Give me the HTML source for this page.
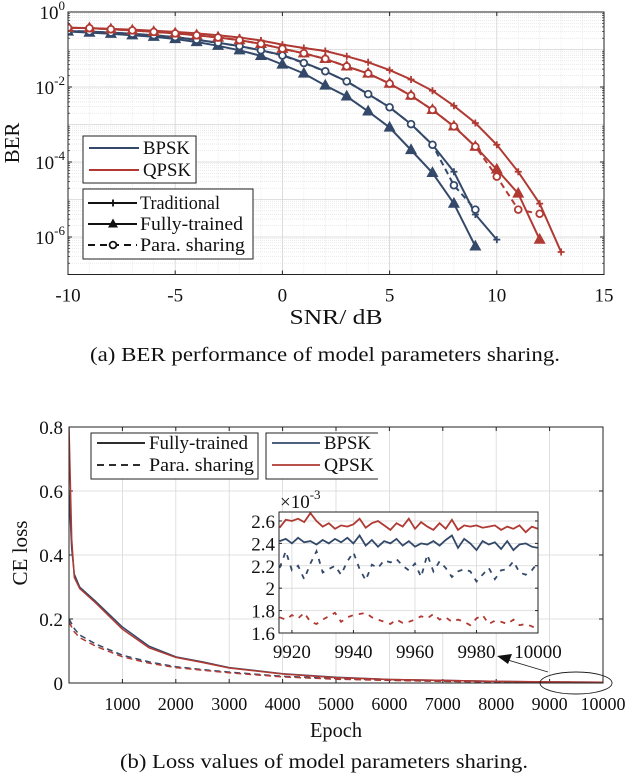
<!DOCTYPE html>
<html><head><meta charset="utf-8"><style>
html,body{margin:0;padding:0;background:#fff;}
svg{display:block;font-family:"Liberation Serif",serif;}
</style></head><body>
<svg id="fig" width="628" height="774" viewBox="0 0 628 774" xmlns="http://www.w3.org/2000/svg">
<defs>
<clipPath id="clipA"><rect x="68" y="12" width="536" height="262.5"/></clipPath>
<clipPath id="clipB"><rect x="69" y="427" width="534" height="256"/></clipPath>
<clipPath id="clipI"><rect x="279" y="512" width="259" height="121"/></clipPath>
</defs>
</svg>
<script>
// ===== Chart A data (BER, log10 exponents) =====
const snr = [-10,-9,-8,-7,-6,-5,-4,-3,-2,-1,0,1,2,3,4,5,6,7,8,9,10,11,12,13];
const bpskTrad = [-0.51,-0.52,-0.55,-0.58,-0.62,-0.67,-0.74,-0.82,-0.91,-1.02,-1.15,-1.35,-1.58,-1.85,-2.19,-2.54,-2.99,-3.54,-4.26,-5.40,-6.07];
const bpskFull = [-0.52,-0.55,-0.58,-0.62,-0.66,-0.72,-0.80,-0.90,-1.02,-1.17,-1.40,-1.64,-1.96,-2.25,-2.65,-3.08,-3.68,-4.29,-5.11,-6.25];
const bpskPara = [-0.51,-0.52,-0.55,-0.58,-0.62,-0.67,-0.74,-0.82,-0.91,-1.02,-1.16,-1.36,-1.58,-1.85,-2.19,-2.54,-2.99,-3.54,-4.62,-5.27];
const qpskTrad = [-0.42,-0.43,-0.45,-0.47,-0.50,-0.53,-0.57,-0.62,-0.68,-0.76,-0.87,-0.96,-1.04,-1.18,-1.34,-1.55,-1.80,-2.10,-2.50,-2.96,-3.54,-4.26,-5.11,-6.40];
const qpskFull = [-0.42,-0.43,-0.46,-0.49,-0.53,-0.57,-0.62,-0.68,-0.75,-0.85,-0.98,-1.10,-1.25,-1.45,-1.64,-1.91,-2.23,-2.61,-3.05,-3.59,-4.20,-4.84,-6.07];
const qpskPara = [-0.42,-0.43,-0.46,-0.49,-0.53,-0.57,-0.62,-0.68,-0.75,-0.85,-0.98,-1.10,-1.25,-1.45,-1.64,-1.91,-2.23,-2.61,-3.05,-3.59,-4.39,-5.27,-5.38];
const xTicksA = [-10,-5,0,5,10,15];
const yTicksA = [0,-2,-4,-6];

// ===== Chart B data (CE loss) =====
const epochs = [0,50,100,200,500,1000,1500,2000,2500,3000,4000,5000,6000,7000,8000,9000,10000];
const fullBpsk = [0.60,0.42,0.34,0.30,0.255,0.175,0.115,0.082,0.066,0.048,0.029,0.018,0.011,0.008,0.005,0.0032,0.0024];
const fullQpsk = [0.80,0.45,0.33,0.295,0.25,0.168,0.11,0.08,0.064,0.047,0.028,0.017,0.011,0.008,0.005,0.0033,0.0026];
const paraBpsk = [0.20,0.185,0.17,0.15,0.122,0.087,0.066,0.051,0.042,0.034,0.021,0.014,0.009,0.006,0.004,0.0028,0.0022];
const paraQpsk = [0.19,0.175,0.16,0.142,0.115,0.082,0.062,0.048,0.040,0.032,0.019,0.012,0.008,0.005,0.0035,0.0022,0.0017];
const xTicksB = [1000,2000,3000,4000,5000,6000,7000,8000,9000,10000];
const yTicksB = [0,0.2,0.4,0.6,0.8];

// ===== Inset data (x1e-3) =====
const inEpochs = [9916,9918,9920,9922,9924,9926,9928,9930,9932,9934,9936,9938,9940,9942,9944,9946,9948,9950,9952,9954,9956,9958,9960,9962,9964,9966,9968,9970,9972,9974,9976,9978,9980,9982,9984,9986,9988,9990,9992,9994,9996,9998,10000];
const inFullQ = [2.54,2.61,2.60,2.62,2.59,2.67,2.60,2.55,2.58,2.53,2.56,2.55,2.57,2.62,2.54,2.58,2.60,2.56,2.52,2.58,2.55,2.62,2.53,2.59,2.55,2.52,2.58,2.53,2.61,2.52,2.56,2.55,2.56,2.54,2.55,2.56,2.52,2.55,2.53,2.56,2.50,2.55,2.53];
const inFullB = [2.42,2.44,2.40,2.45,2.41,2.42,2.39,2.43,2.40,2.44,2.41,2.45,2.40,2.47,2.38,2.43,2.37,2.42,2.40,2.44,2.38,2.42,2.37,2.40,2.39,2.42,2.38,2.43,2.47,2.36,2.44,2.40,2.34,2.42,2.39,2.41,2.35,2.42,2.34,2.39,2.40,2.37,2.36];
const inParaB = [2.18,2.33,2.16,2.20,2.08,2.22,2.33,2.14,2.17,2.20,2.12,2.24,2.32,2.17,2.07,2.21,2.18,2.25,2.23,2.26,2.20,2.16,2.22,2.10,2.30,2.15,2.24,2.18,2.10,2.15,2.17,2.15,2.06,2.12,2.18,2.08,2.16,2.17,2.24,2.14,2.12,2.16,2.23];
const inParaQ = [1.74,1.72,1.76,1.73,1.78,1.70,1.68,1.72,1.75,1.78,1.70,1.74,1.76,1.77,1.78,1.74,1.72,1.70,1.68,1.72,1.69,1.70,1.72,1.75,1.73,1.77,1.72,1.74,1.70,1.72,1.70,1.67,1.73,1.76,1.68,1.71,1.70,1.68,1.72,1.67,1.68,1.66,1.63];
const inXTicks = [9920,9940,9960,9980,10000];
const inYTicks = [1.6,1.8,2.0,2.2,2.4,2.6];

const NS="http://www.w3.org/2000/svg";
const svg=document.getElementById('fig');
const BLUE="#34496a", RED="#b03a33";
function mk(tag,attrs,parent){const e=document.createElementNS(NS,tag);for(const k in attrs)e.setAttribute(k,attrs[k]);(parent||svg).appendChild(e);return e;}
function txt(x,y,s,size,anchor,parent,len){const a={x:x,y:y,'font-size':size,'text-anchor':anchor||'middle',fill:'#111'};if(len){a.textLength=len;a.lengthAdjust='spacingAndGlyphs';}const t=mk('text',a,parent);t.textContent=s;return t;}

// ---------- Chart A ----------
const A={l:68,r:604,t:12,b:274.5};
const ax=v=>A.l+(v+10)/25*(A.r-A.l);
const ay=e=>A.t+(0-e)/7*(A.b-A.t);
const gA=mk('g',{});


mk('rect',{x:A.l,y:A.t,width:A.r-A.l,height:A.b-A.t,fill:'#fff'},gA);
for(let d=0;d>-7;d--){for(let m=2;m<=9;m++){const y=ay(d-1+Math.log10(m));mk('line',{x1:A.l,x2:A.r,y1:y,y2:y,stroke:'#ddd','stroke-width':0.6,'stroke-dasharray':'1,1'},gA);}}
for(let v=-10;v<=15;v++){if(v%5===0)continue;const x=ax(v);mk('line',{x1:x,x2:x,y1:A.t,y2:A.b,stroke:'#e4e4e4','stroke-width':0.6,'stroke-dasharray':'1,1'},gA);}
for(let d=0;d>=-7;d--){const y=ay(d);mk('line',{x1:A.l,x2:A.r,y1:y,y2:y,stroke:'#d4d4d4','stroke-width':0.8},gA);}
xTicksA.forEach(v=>{const x=ax(v);mk('line',{x1:x,x2:x,y1:A.t,y2:A.b,stroke:'#d4d4d4','stroke-width':0.8},gA);
 mk('line',{x1:x,x2:x,y1:A.b,y2:A.b-4,stroke:'#222'},gA);mk('line',{x1:x,x2:x,y1:A.t,y2:A.t+4,stroke:'#222'},gA);
 const t=txt(x,A.b+27,String(v),19,'middle',gA);});
yTicksA.forEach(e=>{const y=ay(e);
 const t=mk('text',{x:A.l-3,y:y+7,'font-size':19,'text-anchor':'end',fill:'#111'},gA);
 
 t.innerHTML='10<tspan dy="-9" font-size="13">'+e+'</tspan>';
 mk('line',{x1:A.l,x2:A.l+4,y1:y,y2:y,stroke:'#222'},gA);mk('line',{x1:A.r,x2:A.r-4,y1:y,y2:y,stroke:'#222'},gA);});
for(let d=0;d>-7;d--){for(let m=2;m<=9;m++){const y=ay(d-1+Math.log10(m));mk('line',{x1:A.l,x2:A.l+2,y1:y,y2:y,stroke:'#222','stroke-width':0.7},gA);mk('line',{x1:A.r,x2:A.r-2,y1:y,y2:y,stroke:'#222','stroke-width':0.7},gA);}}

const pgA=mk('g',{'clip-path':'url(#clipA)'},gA);
function seriesA(vals,color,marker,dash,name){
 const g=mk('g',{},pgA);
 
 
 const pts=vals.map((e,i)=>ax(snr[i]).toFixed(1)+','+ay(e).toFixed(1)).join(' ');
 mk('polyline',{points:pts,fill:'none',stroke:color,'stroke-width':2,'stroke-dasharray':dash||'none'},g);
 vals.forEach((e,i)=>{const x=ax(snr[i]),y=ay(e);
  if(marker==='plus'){mk('path',{d:`M${x-3.5},${y}H${x+3.5}M${x},${y-3.5}V${y+3.5}`,stroke:color,'stroke-width':1.8},g);}
  else if(marker==='tri'){mk('path',{d:`M${x},${y-5.5}L${x+5},${y+3.5}L${x-5},${y+3.5}Z`,fill:color,stroke:color,'stroke-width':1.2},g);}
  else {mk('circle',{cx:x,cy:y,r:3.4,fill:'#fff',stroke:color,'stroke-width':1.8},g);}
 });
}
seriesA(bpskTrad,BLUE,'plus',null,'bpsk-traditional-line');
seriesA(bpskFull,BLUE,'tri',null,'bpsk-fully-trained-line');
seriesA(bpskPara,BLUE,'circ','6,4','bpsk-para-sharing-line');
seriesA(qpskTrad,RED,'plus',null,'qpsk-traditional-line');
seriesA(qpskFull,RED,'tri',null,'qpsk-fully-trained-line');
seriesA(qpskPara,RED,'circ','6,4','qpsk-para-sharing-line');
mk('rect',{x:A.l,y:A.t,width:A.r-A.l,height:A.b-A.t,fill:'none',stroke:'#222','stroke-width':1},gA);
let t1=txt(336,324,'SNR/ dB',21,'middle',gA,93);
let t2=mk('text',{x:0,y:0,'font-size':21,'text-anchor':'middle',fill:'#111',transform:'translate(19,143) rotate(-90)'},gA);t2.textContent='BER';

const lg1=mk('g',{},gA);


mk('rect',{x:83,y:136,width:113,height:47,fill:'#fff',stroke:'#222'},lg1);
mk('line',{x1:89,x2:139,y1:148,y2:148,stroke:BLUE,'stroke-width':2},lg1);txt(143,154,'BPSK',19,'start',lg1,47);
mk('line',{x1:89,x2:139,y1:170,y2:170,stroke:RED,'stroke-width':2},lg1);txt(143,176,'QPSK',19,'start',lg1,48);
const lg2=mk('g',{},gA);


mk('rect',{x:83,y:189,width:170,height:70,fill:'#fff',stroke:'#222'},lg2);
[[203,'Traditional','plus',null,80],[224,'Fully-trained','tri',null,103],[245,'Para. sharing','circ','7,5',105]].forEach(([y,s,m,d,w])=>{
 mk('line',{x1:88,x2:137,y1:y,y2:y,stroke:'#111','stroke-width':2,'stroke-dasharray':d||'none'},lg2);
 const x=113;
 if(m==='plus')mk('path',{d:`M${x-3.5},${y}H${x+3.5}M${x},${y-3.5}V${y+3.5}`,stroke:'#111','stroke-width':1.8},lg2);
 else if(m==='tri')mk('path',{d:`M${x},${y-5.5}L${x+5},${y+3.5}L${x-5},${y+3.5}Z`,fill:'#111'},lg2);
 else mk('circle',{cx:x,cy:y,r:3.4,fill:'#fff',stroke:'#111','stroke-width':1.8},lg2);
 txt(140,y+6,s,19,'start',lg2,w);
});
let capA=txt(325,361,'(a) BER performance of model parameters sharing.',20,'middle',null,470);


// ---------- Chart B ----------
const B={l:69,r:603,t:427,b:683};
const bx=v=>B.l+v/10000*(B.r-B.l);
const by=v=>B.b-v/0.8*(B.b-B.t);
const gB=mk('g',{});


xTicksB.forEach(v=>{const x=bx(v);mk('line',{x1:x,x2:x,y1:B.t,y2:B.b,stroke:'#d8d8d8','stroke-width':0.8},gB);
 mk('line',{x1:x,x2:x,y1:B.b,y2:B.b-4,stroke:'#222'},gB);mk('line',{x1:x,x2:x,y1:B.t,y2:B.t+4,stroke:'#222'},gB);
 const t=txt(x,B.b+27,String(v),18,'middle',gB);});
yTicksB.forEach(v=>{const y=by(v);mk('line',{x1:B.l,x2:B.r,y1:y,y2:y,stroke:'#d8d8d8','stroke-width':0.8},gB);
 mk('line',{x1:B.l,x2:B.l+4,y1:y,y2:y,stroke:'#222'},gB);mk('line',{x1:B.r,x2:B.r-4,y1:y,y2:y,stroke:'#222'},gB);
 const t=txt(B.l-6,y+7,v===0?'0':String(v),19,'end',gB);});
const pgB=mk('g',{'clip-path':'url(#clipB)'},gB);
function seriesB(vals,color,dash,name){
 const p=mk('polyline',{points:vals.map((v,i)=>bx(epochs[i]).toFixed(1)+','+by(v).toFixed(1)).join(' '),fill:'none',stroke:color,'stroke-width':1.5,'stroke-dasharray':dash||'none'},pgB);
 
}
seriesB(paraBpsk,BLUE,'6,4','bpsk-para-sharing-loss');
seriesB(paraQpsk,RED,'6,4','qpsk-para-sharing-loss');
seriesB(fullBpsk,BLUE,null,'bpsk-fully-trained-loss');
seriesB(fullQpsk,RED,null,'qpsk-fully-trained-loss');
mk('rect',{x:B.l,y:B.t,width:B.r-B.l,height:B.b-B.t,fill:'none',stroke:'#222','stroke-width':1},gB);
let t3=txt(336,737,'Epoch',21,'middle',gB,52);
let t4=mk('text',{x:0,y:0,'font-size':21,'text-anchor':'middle',fill:'#111',textLength:65,lengthAdjust:'spacingAndGlyphs',transform:'translate(27,553) rotate(-90)'},gB);t4.textContent='CE loss';

const lg3=mk('g',{},gB);


mk('rect',{x:91,y:433,width:167,height:46,fill:'#fff',stroke:'#222'},lg3);
mk('line',{x1:97,x2:145,y1:443,y2:443,stroke:'#111','stroke-width':1.8},lg3);txt(149,449,'Fully-trained',19,'start',lg3,99);
mk('line',{x1:97,x2:145,y1:465,y2:465,stroke:'#111','stroke-width':1.8,'stroke-dasharray':'7,5'},lg3);txt(149,471,'Para. sharing',19,'start',lg3,105);
const lg4=mk('g',{},gB);


mk('path',{d:'M378,433H266V479H378',fill:'#fff',stroke:'#222'},lg4);
mk('line',{x1:272,x2:320,y1:443,y2:443,stroke:BLUE,'stroke-width':1.8},lg4);txt(324,449,'BPSK',19,'start',lg4,47);
mk('line',{x1:272,x2:320,y1:465,y2:465,stroke:RED,'stroke-width':1.8},lg4);txt(324,471,'QPSK',19,'start',lg4,50);
const ell=mk('ellipse',{cx:576,cy:683,rx:36,ry:11,fill:'none',stroke:'#222','stroke-width':0.9},gB);

mk('line',{x1:548,y1:672,x2:508,y2:660,stroke:'#222','stroke-width':0.9},gB);
mk('path',{d:'M497,656L512,654L508,664Z',fill:'#111'},gB);

// ---------- Inset ----------
const I={l:279,r:538,t:512,b:633};
const ix=v=>I.l+(v-9915.8)/(10000-9915.8)*(I.r-I.l);
const iy=v=>I.b-(v-1.6)/(2.68-1.6)*(I.b-I.t);
const gI=mk('g',{});


mk('rect',{x:I.l,y:I.t,width:I.r-I.l,height:I.b-I.t,fill:'#fff'},gI);
inXTicks.forEach(v=>{const x=ix(v);mk('line',{x1:x,x2:x,y1:I.t,y2:I.b,stroke:'#d8d8d8','stroke-width':0.8},gI);
 mk('line',{x1:x,x2:x,y1:I.b,y2:I.b-3,stroke:'#222'},gI);
 const t=txt(x,I.b+25,String(v),19,'middle',gI);});
inYTicks.forEach(v=>{const y=iy(v);mk('line',{x1:I.l,x2:I.r,y1:y,y2:y,stroke:'#d8d8d8','stroke-width':0.8},gI);
 mk('line',{x1:I.l,x2:I.l+3,y1:y,y2:y,stroke:'#222'},gI);mk('line',{x1:I.r,x2:I.r-3,y1:y,y2:y,stroke:'#222'},gI);
 const t=txt(I.l-4,y+7,v===2?'2':v.toFixed(1),19,'end',gI);});
const pgI=mk('g',{'clip-path':'url(#clipI)'},gI);
function seriesI(vals,color,dash,name){
 const p=mk('polyline',{points:vals.map((v,i)=>ix(inEpochs[i]).toFixed(1)+','+iy(v).toFixed(1)).join(' '),fill:'none',stroke:color,'stroke-width':1.8,'stroke-dasharray':dash||'none'},pgI);
 
}
seriesI(inFullQ,RED,null,'inset-qpsk-fully-trained');
seriesI(inFullB,BLUE,null,'inset-bpsk-fully-trained');
seriesI(inParaB,BLUE,'5,6','inset-bpsk-para-sharing');
seriesI(inParaQ,RED,'5,6','inset-qpsk-para-sharing');
mk('rect',{x:I.l,y:I.t,width:I.r-I.l,height:I.b-I.t,fill:'none',stroke:'#222','stroke-width':1},gI);
const ex=mk('text',{x:280,y:508,'font-size':19,fill:'#111'},gI);
ex.innerHTML='×10<tspan dy="-9" font-size="13">-3</tspan>';


let capB=txt(324,768,'(b) Loss values of model parameters sharing.',20,'middle',null,408);

</script>
</body></html>
